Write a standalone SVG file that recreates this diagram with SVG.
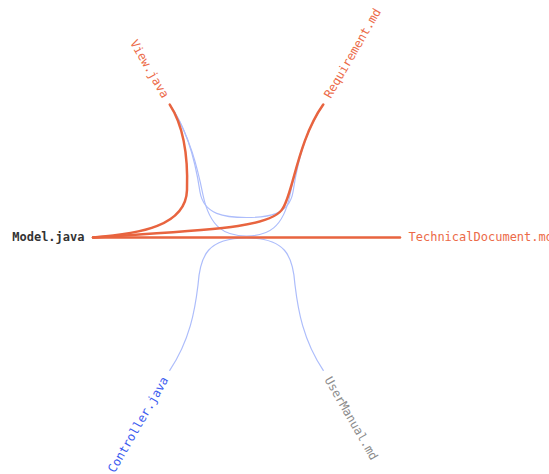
<svg xmlns="http://www.w3.org/2000/svg" width="549" height="474" viewBox="0 0 549 474">
  <style>
    .node text { font-family: "DejaVu Sans Mono", "Liberation Mono", monospace; font-size: 12px; }
    .link { fill: none; stroke-linecap: round; }
    .link.faint { stroke: #adbdfb; stroke-width: 1.2; }
    .link.active { stroke: #e8643f; stroke-width: 2.5; }
    .src { fill: #333333; font-weight: bold; }
    .tgt { fill: #ec6a48; }
    .ctl { fill: #3d5cf0; }
    .idle { fill: #8c8c8c; }
  </style>
  <rect width="549" height="474" fill="#ffffff"/>

  <!-- bundled dependency links -->
  <g id="links">
    <!-- View.java <-> Requirement.md -->
    <path class="link faint" d="M169.75,104.6 C188,130 196,165 200,192 C204,215 225,217.5 246.5,217.5 C268,217.5 289,215 293,192 C297,165 305,130 323.25,104.6"/>
    <path class="link faint" d="M169.75,104.6 C190,135 198,170 203,195 C210,228 225,236 246.5,236 C268,236 283,228 290,195 C295,170 303,135 323.25,104.6"/>
    <!-- Controller.java <-> UserManual.md -->
    <path class="link faint" d="M169.75,370.4 C190,340 195,310 198,285 C200,255 208,238 246.5,238 C285,238 293,255 295,285 C298,310 303,340 323.25,370.4"/>
    <!-- Model.java -> View.java -->
    <path class="link active" d="M93,237.5 C140,234 186,226 187,190 C188,160 185,128 169.75,104.6"/>
    <!-- Model.java -> Requirement.md -->
    <path class="link active" d="M93,237.5 C200,230 272,229 283,208 C293,193 298,140 323.25,104.6"/>
    <!-- Model.java -> TechnicalDocument.md -->
    <path class="link active" d="M93,237.5 L400,237.5"/>
  </g>

  <g transform="translate(246.5,237.5)">
    <g id="node-model" class="node" transform="rotate(180) translate(162,0) rotate(180)">
      <text class="src" dy="0.31em" text-anchor="end">Model.java</text>
    </g>
    <g id="node-view" class="node" transform="rotate(240) translate(162,0) rotate(180)">
      <text class="tgt" dy="0.31em" text-anchor="end">View.java</text>
    </g>
    <g id="node-requirement" class="node" transform="rotate(-60) translate(162,0)">
      <text class="tgt" dy="0.31em" text-anchor="start">Requirement.md</text>
    </g>
    <g id="node-technicaldocument" class="node" transform="rotate(0) translate(162,0)">
      <text class="tgt" dy="0.31em" text-anchor="start">TechnicalDocument.md</text>
    </g>
    <g id="node-usermanual" class="node" transform="rotate(60) translate(162,0)">
      <text class="idle" dy="0.31em" text-anchor="start">UserManual.md</text>
    </g>
    <g id="node-controller" class="node" transform="rotate(120) translate(162,0) rotate(180)">
      <text class="ctl" dy="0.31em" text-anchor="end">Controller.java</text>
    </g>
  </g>
</svg>
